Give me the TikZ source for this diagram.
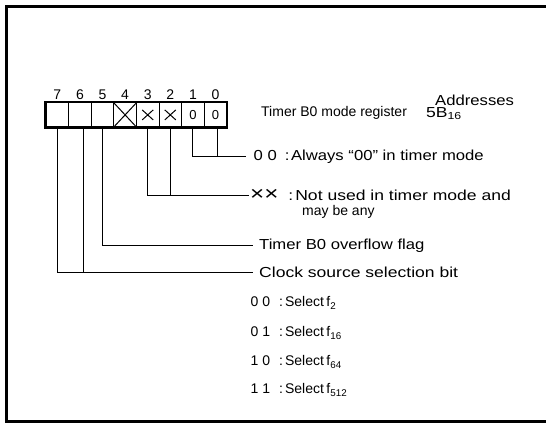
\documentclass[tikz,border=0pt]{standalone}
\usepackage{fontspec}
\setmainfont{Liberation Sans}
\newfontfamily\wideA[FakeStretch=1.15]{Liberation Sans}
\newfontfamily\wideB[FakeStretch=1.21]{Liberation Sans}
\begin{document}
\begin{tikzpicture}[x=1pt,y=-1pt,
  txt/.style={anchor=west,inner sep=0pt,font=\fontsize{14}{16}\selectfont},
  txta/.style={txt,font=\fontsize{14.5}{16}\wideA},
  txtb/.style={txt,font=\fontsize{14.5}{16}\wideB},
  bitnum/.style={inner sep=0pt,font=\fontsize{14}{16}\selectfont},
  cell/.style={draw,line width=1pt,minimum width=22.6pt,minimum height=24.3pt,inner sep=0pt,font=\fontsize{13}{15}\selectfont},
  conn/.style={line width=1pt},
  frame/.style={line width=2.5pt}]
\useasboundingbox (0,0) rectangle (546,423);
\draw[frame] (546,6.5) -- (6.5,6.5) -- (6.5,421.5) -- (546,421.5);
% register cells
\foreach \b/\k in {7/0,6/1,5/2,4/3,3/4,2/5,1/6,0/7}{
  \node[bitnum] (n\b) at ({57.3+22.6*\k},95) {\b};
}
\node[cell] (b7) at (57.3,114.9) {};
\node[cell] (b6) at (79.9,114.9) {};
\node[cell] (b5) at (102.5,114.9) {};
\node[cell] (b4) at (125.1,114.9) {};
\node[cell] (b3) at (147.7,114.9) {};
\node[cell] (b2) at (170.3,114.9) {};
\node[cell] (b1) at (192.9,114.9) {0};
\node[cell] (b0) at (215.5,114.9) {0};
\draw[line width=2.2pt] (b7.north west) rectangle (b0.south east);
\draw[line width=1pt] (b4.north west) -- (b4.south east) (b4.south west) -- (b4.north east);
\draw[line width=1pt] ([shift={(-5.5pt,-5pt)}]b3.center) -- ([shift={(5.5pt,5pt)}]b3.center)
  ([shift={(-5.5pt,5pt)}]b3.center) -- ([shift={(5.5pt,-5pt)}]b3.center);
\draw[line width=1pt] ([shift={(-5.5pt,-5pt)}]b2.center) -- ([shift={(5.5pt,5pt)}]b2.center)
  ([shift={(-5.5pt,5pt)}]b2.center) -- ([shift={(5.5pt,-5pt)}]b2.center);
% headings
\node[txta] (laddr) at (435,100) {Addresses};
\node[txt] (lreg) at (261,113) {Timer B0 mode register};
\node[txtb] (lval) at (426,113.5) {5B\textsubscript{16}};
% labels
\node[txta] (l00) at (253.5,156.7) {0 0\hspace{8pt}:\hspace{1.5pt}Always “00” in timer mode};
\node[txtb] (lxx) at (250,195.5) {{\fontsize{20}{20}\selectfont ××}\hspace{10pt}:\hspace{2pt}Not used in timer mode and};
\node[txt] (lmay) at (302,212) {may be any};
\node[txta] (lof) at (259,245.5) {Timer B0 overflow flag};
\node[txtb] (lclk) at (259,272.7) {Clock source selection bit};
\node[txt] (s00) at (250.5,303) {0 0\hspace{9pt}:\hspace{2pt}Select\hspace{2.5pt}f\textsubscript{2}};
\node[txt] (s01) at (250.5,333) {0 1\hspace{9pt}:\hspace{2pt}Select\hspace{2.5pt}f\textsubscript{16}};
\node[txt] (s10) at (250.5,362) {1 0\hspace{9pt}:\hspace{2pt}Select\hspace{2.5pt}f\textsubscript{64}};
\node[txt] (s11) at (250.5,390) {1 1\hspace{9pt}:\hspace{2pt}Select\hspace{2.5pt}f\textsubscript{512}};
% connectors
\draw[conn] (b1.south) |- ([xshift=-7.5pt]l00.west);
\draw[conn] ([xshift=2pt]b0.south) -- ([xshift=2pt]b0.south |- l00.west);
\draw[conn] (b3.south) |- ([xshift=-1pt]lxx.west);
\draw[conn] (b2.south) -- (b2.south |- lxx.west);
\draw[conn] (b5.south) |- ([xshift=-5.7pt]lof.west);
\draw[conn] (b7.south) |- ([xshift=-6pt]lclk.west);
\draw[conn] ([xshift=3.4pt]b6.south) -- ([xshift=3.4pt]b6.south |- lclk.west);
\end{tikzpicture}
\end{document}
